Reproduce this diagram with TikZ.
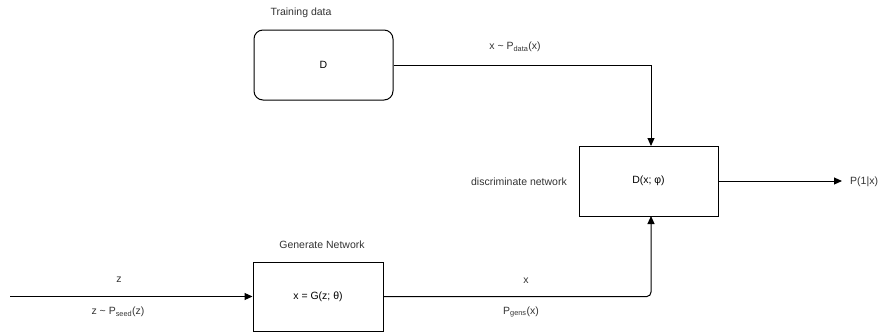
\documentclass[tikz,border=0pt]{standalone}
\usepackage{fontspec}
\setmainfont{Liberation Sans}
\usetikzlibrary{arrows.meta}
\begin{document}
\begin{tikzpicture}[x=1pt,y=-1pt,
  font=\fontsize{10.5}{12}\selectfont,
  block/.style={draw, line width=1pt, minimum width=139pt, minimum height=70pt, inner sep=0pt},
  rblock/.style={block, rounded corners=9pt},
  lbl/.style={inner sep=0pt, text=black!80},
  flow/.style={line width=1pt, -{Triangle[length=8pt,width=7pt]}}]
\useasboundingbox (0,0) rectangle (891,335);

% blocks
\node[rblock] (data) at (323.5,65) {D};
\node[block] (disc) at (648.5,181) {D(x; φ)};
\node[block, minimum width=130pt, minimum height=69pt] (gen) at (318,296.5) {x = G(z; θ)};

% captions
\node[lbl] (tdata) at (301,13) {Training data};
\node[lbl, anchor=east] (dnet) at (567,182) {discriminate network};
\node[lbl] (gnet) at (322,245) {Generate Network};

% free ends
\coordinate (zin) at (10,296.5);
\coordinate (pout) at (842,181);
\node[lbl, anchor=west] (pl) at (850,182) {P(1|x)};

% connectors
\draw[flow] (data.east) -- (651,65) -- (651,146);
\draw[flow] (gen.east) -- (647,296.5) to[out=0,in=-90] (651,292) -- (651,216);
\draw[flow] (zin) -- (gen.west);
\draw[flow] (disc.east) -- (pout);

% edge labels
\node[lbl] (l1) at (515,47) {x \char"7E{} P\textsubscript{data}(x)};
\node[lbl] (l2) at (119,280) {z};
\node[lbl] (l3) at (118,312) {z \char"7E{} P\textsubscript{seed}(z)};
\node[lbl] (l4) at (526,281) {x};
\node[lbl] (l5) at (521,312) {P\textsubscript{gens}(x)};
\end{tikzpicture}
\end{document}
